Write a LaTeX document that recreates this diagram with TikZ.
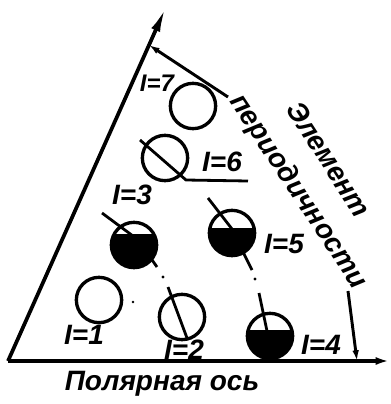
\documentclass[tikz,border=0pt]{standalone}
\usepackage{fontspec}
\setmainfont{Liberation Sans}
\usetikzlibrary{arrows.meta}
\tikzset{axis/.style={line width=2.8pt,-{Latex[length=10pt,width=6pt]}},
 ring/.style={circle,draw,line width=2.5pt,minimum size=34pt,inner sep=0pt},
 mark line/.style={line width=2.1pt},
 bracket/.style={line width=2.2pt,-{Latex[length=8pt,width=5pt]}},
 every node/.style={font=\fontsize{21}{24}\selectfont\bfseries\itshape}}

\begin{document}
\begin{tikzpicture}[x=0.75pt,y=-0.75pt]
\useasboundingbox (0,0) rectangle (390,404);
\coordinate (O) at (8,361);
\coordinate (X) at (389,361);
\coordinate (Y) at (166,7);
\draw[axis] (O)--(X);
\draw[axis,-{Latex[length=19pt,width=7pt]}] (O)--(Y);
\node at (162,384) {Полярная ось};
% element of periodicity
\coordinate (T) at (228,97);
\coordinate (Ty) at (149,45);
\coordinate (R) at (348,291);
\coordinate (Rx) at (357,361);
\draw[bracket] (T)--(Ty);
\draw[bracket] (R)--(Rx);
\node[rotate=-57] at (329,159) {Элемент};
\node[rotate=-56.5] at (298,192) {периодичности};
% positions
\node[ring] (c1) at (99,300) {};
\node[ring] (c2) at (182,317) {};
\node[ring] (c3) at (134,245) {};
\node[ring] (c4) at (270,336) {};
\node[ring] (c5) at (232,233) {};
\node[ring] (c6) at (165,158) {};
\node[ring] (c7) at (193,106) {};
\begin{scope}
\clip ([shift={(-25,-11)}]c3.center) rectangle ++(50,40);
\fill (c3.center) circle (22);
\end{scope}
\begin{scope}
\clip ([shift={(-25,-5)}]c5.center) rectangle ++(50,40);
\fill (c5.center) circle (22);
\end{scope}
\begin{scope}
\clip ([shift={(-25,-6)}]c4.center) rectangle ++(50,40);
\fill (c4.center) circle (22);
\end{scope}
\coordinate (a3) at (102,213);
\coordinate (a5) at (208,198);
\draw[mark line] (a3)--(133,236);
\draw[mark line] (150,257)--(157,267);
\fill (163,277) circle (1.6);
\draw[mark line] (168,287)--(187,338);
\draw[mark line] (a5)--(232,229);
\draw[mark line] (243,252)--(252,270);
\fill (255,279) circle (1.6);
\draw[mark line] (259,293)--(267,331);
\draw[mark line] (140,140)--(186,180)--(248,181);
\fill (133,302) circle (1.4);
% labels
\node (l1) at (84,335) {I=1};
\node (l2) at (184,350) {I=2};
\node (l3) at (132,195) {I=3};
\node (l4) at (321,345) {I=4};
\node (l5) at (284,244) {I=5};
\node (l6) at (222,162) {I=6};
\node[font=\fontsize{18}{20}\selectfont\bfseries\itshape] (l7) at (157,83) {I=7};
\end{tikzpicture}
\end{document}
